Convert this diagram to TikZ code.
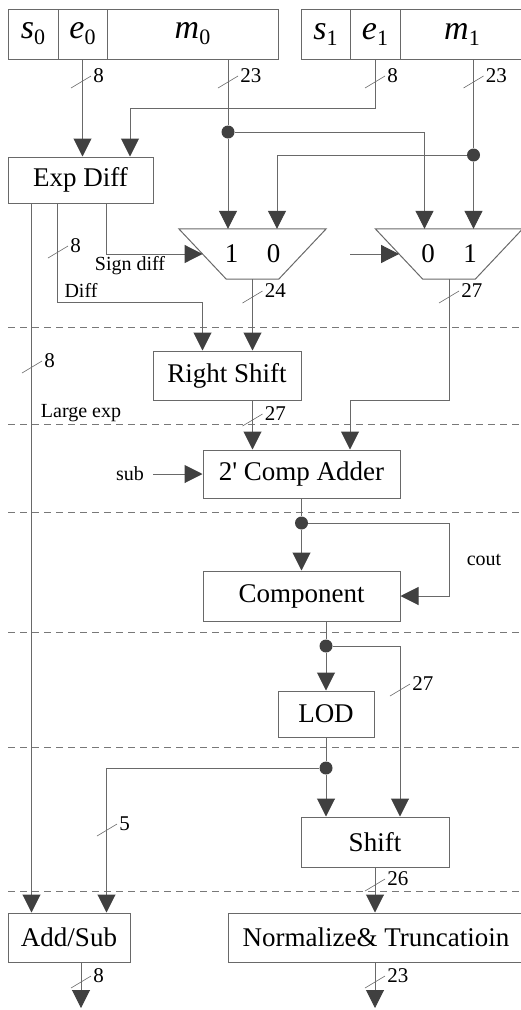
\documentclass[tikz,border=0pt]{standalone}
\usepackage{fontspec}
\setmainfont{Liberation Serif}
\usepackage{tikz}
\usetikzlibrary{arrows.meta, positioning, calc}
\definecolor{wiregray}{RGB}{105,105,105}
\definecolor{tipgray}{RGB}{64,64,64}
\definecolor{dashgray}{RGB}{120,120,120}
\newcommand{\fieldlab}[2]{\textit{#1}\raisebox{-6pt}{\fontsize{22}{22}\selectfont #2}}
\tikzset{
  block/.style={
    draw=wiregray,
    line width=1pt,
    inner sep=0pt,
    font=\fontsize{27}{30}\selectfont
  },
  field/.style={
    draw=wiregray,
    line width=1pt,
    inner sep=0pt,
    minimum height=50pt,
    font=\fontsize{34}{36}\selectfont
  },
  muxbox/.style={
    inner sep=0pt,
    minimum width=147pt,
    minimum height=50pt
  },
  muxlabel/.style={inner sep=0pt, font=\fontsize{27}{30}\selectfont},
  wire/.style={draw=wiregray, line width=1pt},
  arr/.style={wire, -{Triangle[length=18pt, width=18pt, color=tipgray]}},
  joint/.style={circle, fill=tipgray, inner sep=0pt, minimum size=13pt},
  busmark/.style={draw=wiregray, line width=0.6pt},
  buslabel/.style={right, inner sep=2pt, font=\fontsize{21}{21}\selectfont},
  sidelabel/.style={inner sep=0pt, font=\fontsize{20}{22}\selectfont},
  stage/.style={draw=dashgray, line width=0.8pt, dash pattern=on 7pt off 5pt}
}

\begin{document}
\begin{tikzpicture}[x=1pt, y=-1pt]
\useasboundingbox (0,0) rectangle (520,1010);

% pipeline stages
\foreach \sy in {327,424,512,632,747,891}
  \draw[stage] (8,\sy) -- (520,\sy);

% operand registers
\node[field, minimum width=50pt] (s0) at (33,34) {\fieldlab{s}{0}};
\node[field, minimum width=49pt] (e0) at (82.5,34) {\fieldlab{e}{0}};
\node[field, minimum width=171pt] (m0) at (192.5,34) {\fieldlab{m}{0}};
\node[field, minimum width=49pt] (s1) at (325.5,34) {\fieldlab{s}{1}};
\node[field, minimum width=50pt] (e1) at (375,34) {\fieldlab{e}{1}};
\node[field, minimum width=124pt] (m1) at (462,34) {\fieldlab{m}{1}};

% blocks
\node[block, minimum width=145pt, minimum height=46pt] (expdiff) at (80.5,180) {Exp Diff};
\node[muxbox] (mux0) at (252.5,254) {};
\node[muxbox] (mux1) at (449,254) {};
\foreach \m in {mux0,mux1}
  \draw[wire] (\m.north west) -- (\m.north east) -- ($(\m.south east)+(-47.5,0)$)
    -- ($(\m.south west)+(47.5,0)$) -- cycle;
\node[muxlabel] (mux0a) at ($(mux0.center)+(-21,0)$) {1};
\node[muxlabel] (mux0b) at ($(mux0.center)+(21,0)$) {0};
\node[muxlabel] (mux1a) at ($(mux1.center)+(-21,0)$) {0};
\node[muxlabel] (mux1b) at ($(mux1.center)+(21,0)$) {1};
\node[block, minimum width=148pt, minimum height=49pt] (rshift) at (227,375.5) {Right Shift};
\node[block, minimum width=197pt, minimum height=48pt] (adder) at (301.5,474) {2\textquotesingle{} Comp Adder};
\node[block, minimum width=197pt, minimum height=50pt] (comp) at (301.5,596) {Component};
\node[block, minimum width=96pt, minimum height=46pt] (lod) at (326,714) {LOD};
\node[block, minimum width=148pt, minimum height=50pt] (shift) at (375,842) {Shift};
\node[block, minimum width=122pt, minimum height=49pt] (addsub) at (69,937.5) {Add/Sub};
\node[block, minimum width=296pt, minimum height=49pt] (norm) at (376,937.5) {Normalize\& Truncatioin};

% side labels
\node[sidelabel] (signlab) at (130,266) {Sign diff};
\node[sidelabel] (difflab) at (81,290) {Diff};
\node[sidelabel] (largelab) at (81,413) {Large exp};
\node[sidelabel] (sub) at (130,474) {sub};
\node[sidelabel] (cout) at (484,560) {cout};

% junctions
\node[joint] (d1) at (228,132) {};
\node[joint] (d2) at (473.5,155) {};
\node[joint] (d3) at (301.5,523) {};
\node[joint] (d4) at (326,646) {};
\node[joint] (d5) at (326,768) {};

\coordinate (t1) at (130,108);
\coordinate (mux0in0) at ($(mux0.north)+(24.5,0)$);
\coordinate (mux1in0) at ($(mux1.north)+(-24.5,0)$);
\coordinate (mux0sel) at ($(mux0.west)+(23.75,0)$);
\coordinate (mux1sel) at ($(mux1.west)+(23.75,0)$);
\coordinate (sel1) at ($(mux1sel)+(-49,0)$);
\coordinate (elarge) at ($(expdiff.south west)+(24,0)$);
\coordinate (ediff) at ($(expdiff.south west)+(50,0)$);
\coordinate (esign) at ($(expdiff.south west)+(99,0)$);
\coordinate (rsin0) at ($(rshift.north west)+(50,0)$);
\coordinate (addin0) at ($(adder.north)+(-49,0)$);
\coordinate (addin1) at ($(adder.north)+(48.5,0)$);
\coordinate (shin1) at ($(shift.north)+(25,0)$);
\coordinate (asin1) at ($(addsub.north west)+(99,0)$);
\coordinate (out0) at (81,1008);
\coordinate (out1) at (375,1008);

% exponent path
\draw[arr] (e0.south) -- (e0.south |- expdiff.north);
\draw[arr] (e1.south) |- (t1) -- (t1 |- expdiff.north);

% mantissa swap
\draw[wire] (m0.south -| d1) -- (d1);
\draw[arr] (d1) -- (d1 |- mux0.north);
\draw[arr] (d1) -| (mux1in0);
\draw[wire] (m1.south -| d2) -- (d2);
\draw[arr] (d2) -- (d2 |- mux1.north);
\draw[arr] (d2) -| (mux0in0);
\draw[arr] (esign) |- (mux0sel);
\draw[arr] (sel1) -- (mux1sel);

% align and add
\draw[arr] (ediff) -- ++(0,99) -| (rsin0);
\draw[arr] (mux0.south) -- (mux0.south |- rshift.north);
\draw[arr] (mux1.south) -- (mux1.south |- rshift.south) -| (addin1);
\draw[arr] (addin0 |- rshift.south) -- (addin0);
\draw[arr] ($(sub.east)+(9,0)$) -- (adder.west);
\draw[wire] (adder.south) -- (d3);
\draw[arr] (d3) -- (comp.north);
\draw[arr] (d3) -- ++(147.5,0) |- (comp.east);

% normalize
\draw[wire] (comp.south -| d4) -- (d4);
\draw[arr] (d4) -- (lod.north);
\draw[arr] (d4) -| (shin1);
\draw[wire] (lod.south) -- (d5);
\draw[arr] (d5) -- (d5 |- shift.north);
\draw[arr] (d5) -| (asin1);
\draw[arr] (shift.south) -- (shift.south |- norm.north);
\draw[arr] (elarge) -- (elarge |- addsub.north);
\draw[arr] (out0 |- addsub.south) -- (out0);
\draw[arr] (out1 |- norm.south) -- (out1);

% bus widths
\foreach \wx/\wy/\bits [count=\k] in {81/82/8, 228/82/23, 375/82/8, 473.5/82/23,
    58/252/8, 32/367/8, 252.5/297/24, 449/297/27, 252.5/420/27, 400/690/27,
    107/830/5, 375/885/26, 81/982/8, 375/982/23}
  \draw[busmark] (\wx-10,\wy+6) -- (\wx+10,\wy-6) node[buslabel] (bw\k) {\bits};
\end{tikzpicture}
\end{document}
